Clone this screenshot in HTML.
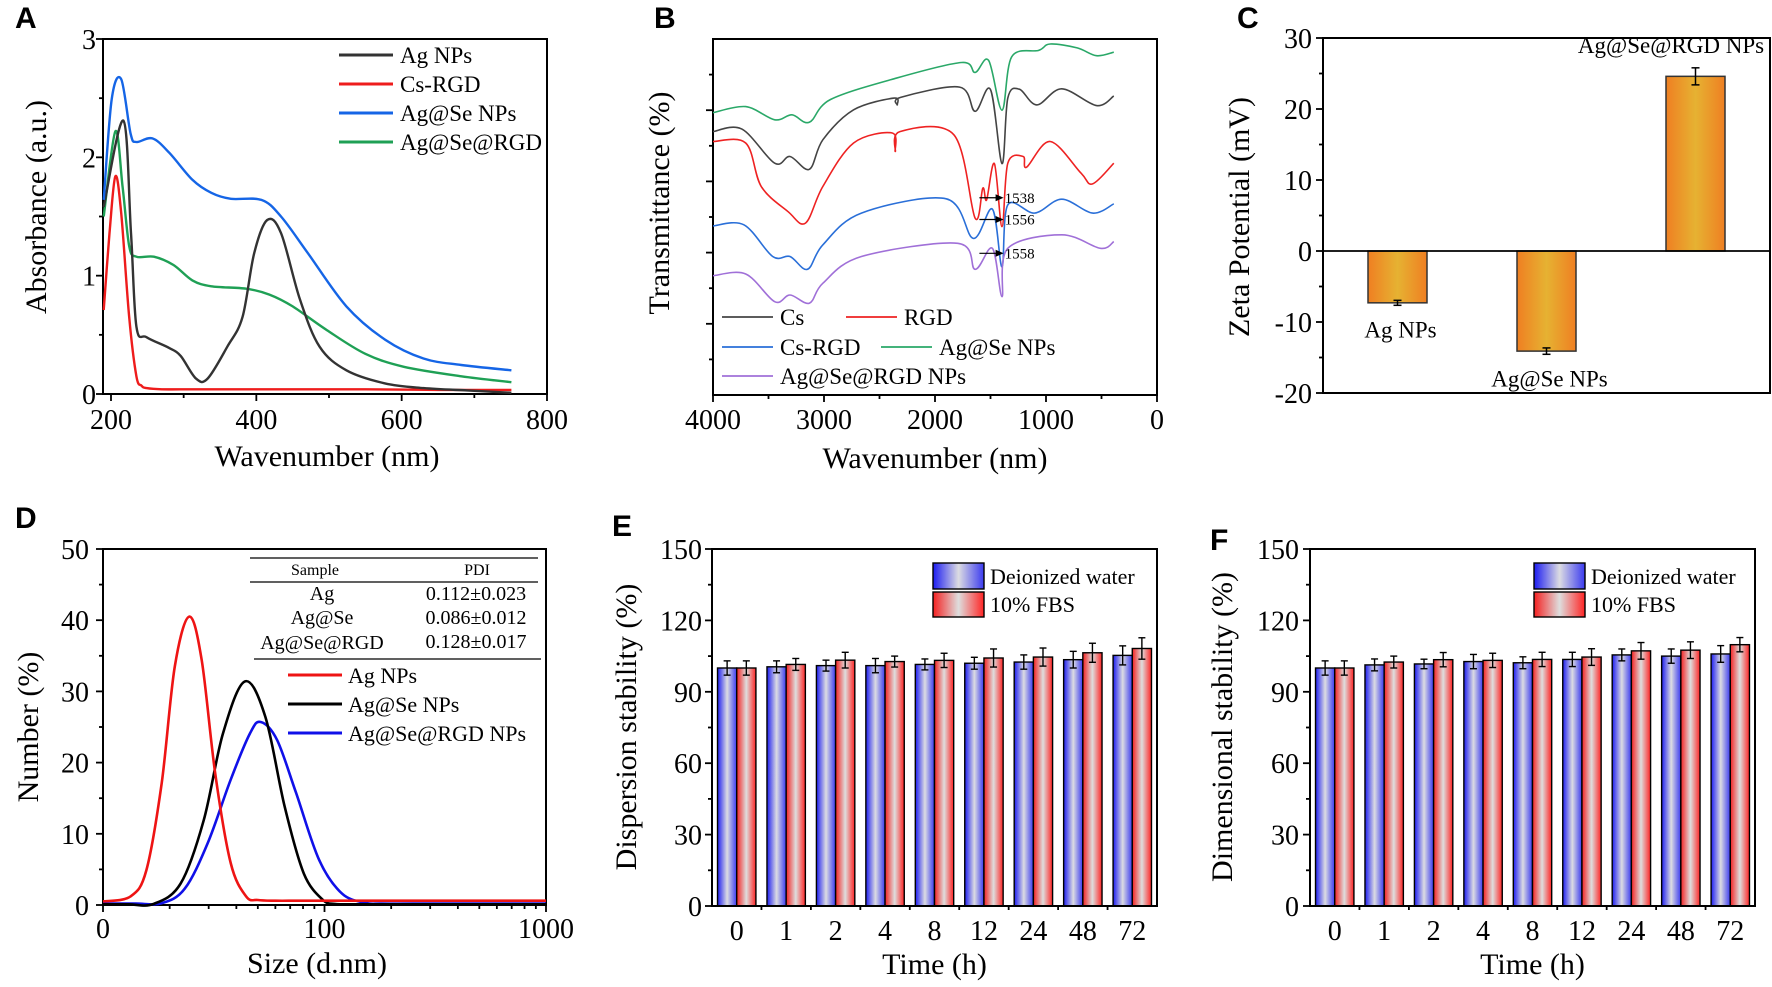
<!DOCTYPE html>
<html><head><meta charset="utf-8"><title>Nanoparticle characterization</title>
<style>
html,body{margin:0;padding:0;background:#fff;}
svg{display:block;}
text{font-family:"Liberation Serif",serif;fill:#000;}
.pl{font-family:"Liberation Sans",sans-serif;font-weight:bold;}
</style></head>
<body>
<svg id="fig" xmlns="http://www.w3.org/2000/svg" width="1772" height="987" viewBox="0 0 1772 987">
<defs>
<linearGradient id="gOr" x1="0" x2="1" y1="0" y2="0"><stop offset="0" stop-color="#ef7f22"/><stop offset="0.5" stop-color="#e6b232"/><stop offset="1" stop-color="#ef7f22"/></linearGradient>
<linearGradient id="gBl" x1="0" x2="1" y1="0" y2="0"><stop offset="0" stop-color="#1c1cf2"/><stop offset="0.5" stop-color="#dcdce2"/><stop offset="1" stop-color="#3a3af0"/></linearGradient>
<linearGradient id="gRd" x1="0" x2="1" y1="0" y2="0"><stop offset="0" stop-color="#f52020"/><stop offset="0.5" stop-color="#dedede"/><stop offset="1" stop-color="#ff2424"/></linearGradient>
</defs>
</svg>
<script>
// ---------- Panel A data (UV-vis) ----------
const aAgX = [190,217,227.5,235,249,280,296,317,333,360,381,397,415,434,460,487,524,577,630,690,751];
const aAgY = [1.58,2.31,1.36,0.57,0.48,0.39,0.32,0.13,0.13,0.40,0.65,1.19,1.47,1.36,0.80,0.40,0.20,0.09,0.05,0.03,0.01];
const aCsX = [190,198,206,214,225,235,242,249,270,320,420,550,650,751];
const aCsY = [0.71,1.36,1.84,1.53,0.65,0.15,0.07,0.05,0.04,0.04,0.04,0.04,0.035,0.035];
const aSeX = [190,201,214,227,235,257,280,312,338,365,407,434,471,524,577,630,682,751];
const aSeY = [1.64,2.49,2.66,2.20,2.13,2.16,2.04,1.81,1.70,1.65,1.64,1.50,1.19,0.74,0.46,0.30,0.245,0.20];
const aRgX = [190,206,216,225,235,259,286,312,338,386,418,450,497,550,603,682,751];
const aRgY = [1.50,2.22,1.75,1.25,1.16,1.16,1.09,0.96,0.91,0.89,0.84,0.74,0.54,0.34,0.23,0.15,0.10];
const aXTicks = [200,400,600,800];
const aYTicks = [0,1,2,3];
// ---------- Panel B data (FTIR, offset transmittance) ----------
const bGreenX = [4000,3705,3444,3288,3132,2941,2350,1760,1639,1517,1396,1309,1066,962,719,545,389];
const bGreenY = [79.3,81,77.3,78.7,76.6,83,89,93.4,90.6,94,80,95,96.8,98.6,97.5,95.3,96.3];
const bBlackX = [4000,3740,3444,3306,3132,3010,2733,2368,2340,2310,1778,1639,1500,1396,1344,1240,1083,858,545,389];
const bBlackY = [74,74.7,65.1,67,63.4,71.7,80.1,83.4,81.5,83.6,86.5,79.7,85.8,65,83.4,85.9,81.5,86,81.3,84];
const bRedX = [4000,3705,3566,3323,3167,3010,2733,2385,2358,2316,1830,1639,1569,1535,1465,1396,1344,1205,1175,962,684,580,389];
const bRedY = [71.2,70.8,58.6,51.5,48.3,58.6,70.8,73.6,68.4,74,73.1,49.7,58.1,54.8,65,47.3,65.1,67,64,71.2,62.3,59.3,65.1];
const bBlueX = [4000,3722,3462,3306,3149,3010,2663,1899,1656,1483,1396,1344,1101,858,580,389];
const bBlueY = [47.5,47.8,38.9,38.9,35.3,42.2,51.1,55.1,44,52.2,36,53.4,51.1,55,51.1,53.7];
const bPurpX = [4000,3705,3444,3306,3132,3010,2663,1795,1639,1483,1396,1344,858,510,389];
const bPurpY = [33.5,34,26.2,28.1,25.8,31.4,38.9,42.6,35.3,41.2,27.6,41.2,45,41.2,43.1];
const bXTicks = [4000,3000,2000,1000,0];
const bPeakLabels = ["1538","1556","1558"];
const bPeakY = [55.4,49.3,39.8];
// ---------- Panel C data (zeta) ----------
const cCats = ["Ag NPs","Ag@Se NPs","Ag@Se@RGD NPs"];
const cVals = [-7.3,-14.1,24.6];
const cErr = [0.35,0.45,1.2];
const cYTicks = [30,20,10,0,-10,-20];
// ---------- Panel D data (DLS) ----------
const dRedX = [10,13.3,15.7,18.4,21.1,24.5,27.9,32.1,37.7,44.3,50,60,75,100,200,500,1000];
const dRedY = [0.5,1.2,4.9,17.1,33.5,40.5,34.4,18.5,5.9,1.2,0.7,0.6,0.6,0.6,0.6,0.6,0.6];
const dBlkX = [10,13,16.9,22.4,28.5,34.8,43.7,54.1,66.1,80.7,98.5,111,125,160,250,500,1000];
const dBlkY = [0.1,0.1,0.15,3,11.9,24.1,31.4,26.4,13.8,4.4,0.7,0.15,0.1,0.1,0.1,0.1,0.1];
const dBluX = [10,14,18.4,23.4,29.7,37.7,46.1,51.5,61,74.5,94.6,120,153,180,250,500,1000];
const dBluY = [0.2,0.2,0.25,2.3,8.7,17.6,24.1,25.7,23.2,15.7,6.3,1.6,0.3,0.2,0.2,0.2,0.2];
const dYTicks = [0,10,20,30,40,50];
const dTableSamples = ["Ag","Ag@Se","Ag@Se@RGD"];
const dTablePDI = ["0.112±0.023","0.086±0.012","0.128±0.017"];
// ---------- Panel E / F data ----------
const timeCats = ["0","1","2","4","8","12","24","48","72"];
const eWater = [100,100.5,101,101,101.5,102,102.5,103.5,105.3];
const eWaterErr = [3,2.5,2.3,3,2.3,2.5,3,3.5,4];
const eFBS = [100,101.5,103.3,102.7,103.2,104.2,104.6,106.4,108.2];
const eFBSErr = [3,2.5,3.3,2.3,3,3.8,3.8,4,4.5];
const fWater = [100,101.3,101.7,102.7,102.2,103.6,105.5,105,105.9];
const fWaterErr = [3,2.5,2,3,2.5,3,2.5,3,3.5];
const fFBS = [100,102.5,103.5,103.2,103.6,104.6,107.2,107.5,109.8];
const fFBSErr = [3,2.5,3,3,3,3.5,3.5,3.5,3];
const efYTicks = [0,30,60,90,120,150];

const NS = "http://www.w3.org/2000/svg";
const svg = document.getElementById('fig');

function mk(tag, attrs, name, parent){
  const e = document.createElementNS(NS, tag);
  for (const k in attrs) e.setAttribute(k, attrs[k]);
  
  
  (parent || svg).appendChild(e);
  return e;
}
function txt(x, y, s, size, anchor, name, parent, cls){
  const t = mk('text', {x:x, y:y, 'font-size':size, 'text-anchor':anchor||'start'}, name, parent);
  if (cls) t.setAttribute('class', cls);
  t.textContent = s;
  return t;
}
function grp(name){ return mk('g', {}, name, svg); }
function lin(x1,y1,x2,y2,name,parent,w,col){
  return mk('line', {x1:x1,y1:y1,x2:x2,y2:y2,stroke:col||'#000','stroke-width':w||1.8}, name, parent);
}
function box(x0,y0,x1,y1,name,parent){
  return mk('rect', {x:x0,y:y0,width:x1-x0,height:y1-y0,fill:'none',stroke:'#000','stroke-width':2}, name, parent);
}
function poly(xs, ys, sx, sy, col, w, name, parent){
  const P = xs.map((v,i)=>[sx(v), sy(ys[i])]);
  let d = 'M'+P[0][0].toFixed(1)+','+P[0][1].toFixed(1);
  for (let i=0;i<P.length-1;i++){
    const p0=P[Math.max(0,i-1)], p1=P[i], p2=P[i+1], p3=P[Math.min(P.length-1,i+2)];
    const c1x=p1[0]+(p2[0]-p0[0])/6, c1y=p1[1]+(p2[1]-p0[1])/6;
    const c2x=p2[0]-(p3[0]-p1[0])/6, c2y=p2[1]-(p3[1]-p1[1])/6;
    d += ' C'+c1x.toFixed(1)+','+c1y.toFixed(1)+' '+c2x.toFixed(1)+','+c2y.toFixed(1)+' '+p2[0].toFixed(1)+','+p2[1].toFixed(1);
  }
  return mk('path', {d:d, fill:'none', stroke:col, 'stroke-width':w||2.4, 'stroke-linejoin':'round'}, name, parent);
}
function ylabel(cx, cy, s, size, name, parent){
  const t = mk('text', {x:0, y:0, 'font-size':size, 'text-anchor':'middle', transform:'translate('+cx+','+cy+') rotate(-90)'}, name, parent);
  t.textContent = s;
  return t;
}

// ================= Panel A =================
(function(){
  const g = grp('panel-a');
  const L=103,R=547,T=39,B=394;
  const sx = v => 111 + (v-200)*436/600;
  const sy = v => B - v*(B-T)/3;
  txt(15,28,'A',30,'start','panel-label-a',g,'pl');
  box(L,T,R,B,'plot-frame-a',g);
  aXTicks.forEach(v=>{ lin(sx(v),B,sx(v),B+7,'x-tick-a',g); txt(sx(v),429,String(v),28,'middle','x-tick-label-a',g); });
  [300,500,700].forEach(v=> lin(sx(v),B,sx(v),B+4,'x-minor-tick-a',g));
  aYTicks.forEach(v=>{ lin(L-7,sy(v),L,sy(v),'y-tick-a',g); txt(96,sy(v)+10,String(v),28,'end','y-tick-label-a',g); });
  [0.5,1.5,2.5].forEach(v=> lin(L-4,sy(v),L,sy(v),'y-minor-tick-a',g));
  ylabel(46,207,'Absorbance (a.u.)',30,'y-axis-title-a',g);
  txt(327,466,'Wavenumber (nm)',30,'middle','x-axis-title-a',g);
  poly(aCsX,aCsY,sx,sy,'#ee1c1c',2.4,'series-cs-rgd',g);
  poly(aRgX,aRgY,sx,sy,'#1fa055',2.4,'series-ag-se-rgd',g);
  poly(aAgX,aAgY,sx,sy,'#333',2.4,'series-ag-nps',g);
  poly(aSeX,aSeY,sx,sy,'#1565e6',2.4,'series-ag-se-nps',g);
  const leg=[['Ag NPs','#333'],['Cs-RGD','#ee1c1c'],['Ag@Se NPs','#1565e6'],['Ag@Se@RGD','#1fa055']];
  leg.forEach((l,i)=>{ const y=55+i*29; lin(339,y,393,y,'legend-line-a',g,3,l[1]); txt(400,y+8,l[0],23,'start','legend-entry-a',g); });
})();

// ================= Panel B =================
(function(){
  const g = grp('panel-b');
  const L=713,R=1157,T=39,B=395;
  const sx = v => L + (4000-v)*(R-L)/4000;
  const sy = v => B - v*(B-T)/100;
  txt(654,28,'B',30,'start','panel-label-b',g,'pl');
  box(L,T,R,B,'plot-frame-b',g);
  bXTicks.forEach(v=>{ lin(sx(v),B,sx(v),B+7,'x-tick-b',g); txt(sx(v),429,String(v),28,'middle','x-tick-label-b',g); });
  [3500,2500,1500,500].forEach(v=> lin(sx(v),B,sx(v),B+4,'x-minor-tick-b',g));
  [20,40,60,80].forEach(v=> lin(L-7,sy(v),L,sy(v),'y-tick-b',g));
  [10,30,50,70,90].forEach(v=> lin(L-4,sy(v),L,sy(v),'y-minor-tick-b',g));
  ylabel(669,203,'Transmittance (%)',30,'y-axis-title-b',g);
  txt(935,468,'Wavenumber (nm)',30,'middle','x-axis-title-b',g);
  poly(bGreenX,bGreenY,sx,sy,'#2aa868',1.6,'series-ag-se-nps-b',g);
  poly(bBlackX,bBlackY,sx,sy,'#444',1.6,'series-cs',g);
  poly(bRedX,bRedY,sx,sy,'#ee2222',1.6,'series-rgd',g);
  poly(bBlueX,bBlueY,sx,sy,'#2a6fd8',1.6,'series-cs-rgd-b',g);
  poly(bPurpX,bPurpY,sx,sy,'#a070d8',1.6,'series-ag-se-rgd-nps-b',g);
  bPeakLabels.forEach((s,i)=>{
    const y = sy(bPeakY[i]);
    lin(sx(1600),y,sx(1400),y,'peak-arrow',g,1.2);
    mk('polygon',{points:(sx(1400)+2)+','+y+' '+(sx(1400)-6)+','+(y-3.5)+' '+(sx(1400)-6)+','+(y+3.5),fill:'#000'},'peak-arrowhead',g);
    txt(sx(1400)+3,y+5,s,15,'start','peak-label',g);
  });
  const leg=[['Cs','#444',722,317],['RGD','#ee2222',846,317],['Cs-RGD','#2a6fd8',722,347],['Ag@Se NPs','#2aa868',881,347],['Ag@Se@RGD NPs','#a070d8',722,376]];
  leg.forEach(l=>{ lin(l[2],l[3],l[2]+51,l[3],'legend-line-b',g,1.8,l[1]); txt(l[2]+58,l[3]+8,l[0],23,'start','legend-entry-b',g); });
})();

// ================= Panel C =================
(function(){
  const g = grp('panel-c');
  const L=1323,R=1770,T=38,B=393;
  const sy = v => T + (30-v)*(B-T)/50;
  const bw = (R-L)/cCats.length;
  const cx = i => L + (i+0.5)*bw;
  txt(1237,28,'C',30,'start','panel-label-c',g,'pl');
  box(L,T,R,B,'plot-frame-c',g);
  cYTicks.forEach(v=>{ lin(L-7,sy(v),L,sy(v),'y-tick-c',g); txt(1312,sy(v)+10,String(v),28,'end','y-tick-label-c',g); });
  [25,15,5,-5,-15].forEach(v=> lin(L-4,sy(v),L,sy(v),'y-minor-tick-c',g));
  ylabel(1249,217,'Zeta Potential (mV)',30,'y-axis-title-c',g);
  cVals.forEach((v,i)=>{
    const y0=sy(0), y1=sy(v);
    mk('rect',{x:cx(i)-29.5,y:Math.min(y0,y1),width:59,height:Math.abs(y1-y0),fill:'url(#gOr)',stroke:'#333','stroke-width':1.5},'bar-zeta',g);
    const ya=sy(v+cErr[i]), yb=sy(v-cErr[i]);
    lin(cx(i),ya,cx(i),yb,'error-bar-c',g,1.5);
    lin(cx(i)-4,ya,cx(i)+4,ya,'error-cap-c',g,1.5);
    lin(cx(i)-4,yb,cx(i)+4,yb,'error-cap-c',g,1.5);
    const ly = v<0 ? yb+32 : ya-15;
    txt(i===2?1671:cx(i)+3,ly,cCats[i],23,'middle','bar-label-c',g);
  });
  lin(L,sy(0),R,sy(0),'zero-line-c',g,1.8);
})();

// ================= Panel D =================
(function(){
  const g = grp('panel-d');
  const L=103,R=546,T=549,B=905;
  const sx = v => L + (Math.log10(v)-1)*(R-L)/2;
  const sy = v => B - v*(B-T)/50;
  txt(15,528,'D',30,'start','panel-label-d',g,'pl');
  box(L,T,R,B,'plot-frame-d',g);
  [[10,'0'],[100,'100'],[1000,'1000']].forEach(t=>{ lin(sx(t[0]),B,sx(t[0]),B+7,'x-tick-d',g); txt(sx(t[0]),938,t[1],28,'middle','x-tick-label-d',g); });
  [20,30,40,50,60,70,80,90,200,300,400,500,600,700,800,900].forEach(v=> lin(sx(v),B,sx(v),B+4,'x-minor-tick-d',g));
  dYTicks.forEach(v=>{ lin(L-7,sy(v),L,sy(v),'y-tick-d',g); txt(89,sy(v)+10,String(v),28,'end','y-tick-label-d',g); });
  [5,15,25,35,45].forEach(v=> lin(L-4,sy(v),L,sy(v),'y-minor-tick-d',g));
  ylabel(38,727,'Number (%)',30,'y-axis-title-d',g);
  txt(317,973,'Size (d.nm)',30,'middle','x-axis-title-d',g);
  poly(dBluX,dBluY,sx,sy,'#1010e8',2.6,'series-ag-se-rgd-nps-d',g);
  poly(dBlkX,dBlkY,sx,sy,'#000',2.6,'series-ag-se-nps-d',g);
  poly(dRedX,dRedY,sx,sy,'#ee1414',2.6,'series-ag-nps-d',g);
  lin(250,558,538,558,'table-rule-top',g,1.3);
  txt(315,575,'Sample',16,'middle','table-header-sample',g);
  txt(477,575,'PDI',16,'middle','table-header-pdi',g);
  lin(250,582,538,582,'table-rule-mid',g,1.3);
  dTableSamples.forEach((s,i)=>{ const y=600+i*24; txt(322,y+(i===2?1:0),s,20,'middle','table-sample',g); txt(476,y,dTablePDI[i],20,'middle','table-pdi',g); });
  lin(254,659,541,659,'table-rule-bottom',g,1.3);
  const leg=[['Ag NPs','#ee1414'],['Ag@Se NPs','#000'],['Ag@Se@RGD NPs','#1010e8']];
  leg.forEach((l,i)=>{ const y=675+i*29; lin(288,y,342,y,'legend-line-d',g,3,l[1]); txt(348,y+8,l[0],22,'start','legend-entry-d',g); });
})();

// ================= Panels E & F =================
function barPanel(id, L, R, letter, lx, ly, title, titleX, labRight, water, waterErr, fbs, fbsErr, legX){
  const g = grp('panel-'+id);
  const T=549,B=906;
  const sy = v => B - v*(B-T)/150;
  const bw = (R-L)/timeCats.length;
  const cx = i => L + (i+0.5)*bw;
  txt(lx,ly,letter,30,'start','panel-label-'+id,g,'pl');
  efYTicks.forEach(v=>{ lin(L-7,sy(v),L,sy(v),'y-tick-'+id,g); txt(labRight,sy(v)+10,String(v),28,'end','y-tick-label-'+id,g); });
  [15,45,75,105,135].forEach(v=> lin(L-4,sy(v),L,sy(v),'y-minor-tick-'+id,g));
  timeCats.forEach((c,i)=>{
    txt(cx(i),940,c,28,'middle','x-tick-label-'+id,g);
    if(i>0) lin(L+i*bw,B,L+i*bw,B+4,'x-tick-'+id,g);
    const w=19.2;
    mk('rect',{x:cx(i)-w,y:sy(water[i]),width:w,height:B-sy(water[i]),fill:'url(#gBl)',stroke:'#000','stroke-width':1.4},'bar-water',g);
    mk('rect',{x:cx(i),y:sy(fbs[i]),width:w,height:B-sy(fbs[i]),fill:'url(#gRd)',stroke:'#000','stroke-width':1.4},'bar-fbs',g);
    [[cx(i)-w/2,water[i],waterErr[i]],[cx(i)+w/2,fbs[i],fbsErr[i]]].forEach(e=>{
      const ya=sy(e[1]+e[2]), yb=sy(e[1]-e[2]);
      lin(e[0],ya,e[0],yb,'error-bar-'+id,g,1.4);
      lin(e[0]-3.5,ya,e[0]+3.5,ya,'error-cap-'+id,g,1.4);
      lin(e[0]-3.5,yb,e[0]+3.5,yb,'error-cap-'+id,g,1.4);
    });
  });
  box(L,T,R,B,'plot-frame-'+id,g);
  ylabel(titleX,727,title,30,'y-axis-title-'+id,g);
  txt((L+R)/2,974,'Time (h)',30,'middle','x-axis-title-'+id,g);
  mk('rect',{x:legX,y:563,width:51,height:26,fill:'url(#gBl)',stroke:'#000','stroke-width':1.4},'legend-swatch-water',g);
  mk('rect',{x:legX,y:592,width:51,height:25,fill:'url(#gRd)',stroke:'#000','stroke-width':1.4},'legend-swatch-fbs',g);
  txt(legX+57,584,'Deionized water',22,'start','legend-entry-water',g);
  txt(legX+57,612,'10% FBS',22,'start','legend-entry-fbs',g);
}
barPanel('e',712,1157,'E',612,536,'Dispersion stability (%)',636,702,eWater,eWaterErr,eFBS,eFBSErr,933);
barPanel('f',1310,1755,'F',1210,550,'Dimensional stability (%)',1232,1299,fWater,fWaterErr,fFBS,fFBSErr,1534);
</script>
</body></html>
